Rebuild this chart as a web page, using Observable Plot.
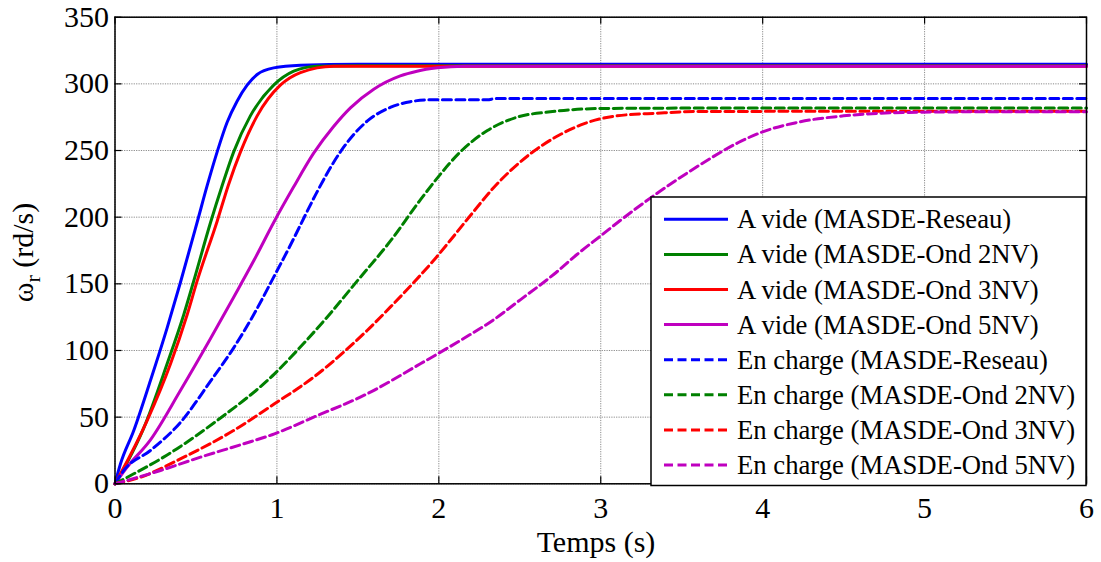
<!DOCTYPE html>
<html><head><meta charset="utf-8">
<script src="https://cdn.jsdelivr.net/npm/d3@7"></script>
<script src="https://cdn.jsdelivr.net/npm/@observablehq/plot@0.6"></script>
<style>body{margin:0;background:#fff} #chart{width:1101px;height:562px}</style>
</head><body><div id="chart"></div>
<script>
// ---- Data ----
const xTicks = [0, 1, 2, 3, 4, 5, 6];
const yTicks = [0, 50, 100, 150, 200, 250, 300, 350];
const xLabel = "Temps (s)";
const yLabelMain = "ω", yLabelSub = "r", yLabelUnit = " (rd/s)";

const seriesNames = [
  "A vide (MASDE-Reseau)",
  "A vide (MASDE-Ond 2NV)",
  "A vide (MASDE-Ond 3NV)",
  "A vide (MASDE-Ond 5NV)",
  "En charge (MASDE-Reseau)",
  "En charge (MASDE-Ond 2NV)",
  "En charge (MASDE-Ond 3NV)",
  "En charge (MASDE-Ond 5NV)"
];
const seriesColors = ["#0000ff", "#008000", "#ff0000", "#bf00bf", "#0000ff", "#008000", "#ff0000", "#bf00bf"];
const seriesDashed = [false, false, false, false, true, true, true, true];

const tVideReseau = [0, 0.034, 0.116, 0.219, 0.322, 0.404, 0.507, 0.57, 0.631, 0.692, 0.754, 0.816, 0.878, 0.98, 1.145, 1.5, 6];
const wVideReseau = [0, 15, 40, 77.5, 117, 151, 196, 224, 249, 271, 287, 299, 307, 312, 314, 314.8, 314.8];

const tVide2NV = [0, 0.075, 0.178, 0.322, 0.425, 0.486, 0.59, 0.66, 0.733, 0.836, 0.98, 1.104, 1.248, 1.5, 6];
const wVide2NV = [0, 16, 42, 90, 127, 152, 196, 223, 249, 276, 299, 309.5, 313.3, 313.5, 313.5];

const tVide3NV = [0, 0.034, 0.199, 0.343, 0.446, 0.507, 0.631, 0.7, 0.775, 0.878, 1.021, 1.145, 1.35, 6];
const wVide3NV = [0, 7.5, 47.5, 90, 127, 152, 197, 224, 249, 276, 299, 308.5, 313.3, 313.3];

const tVide5NV = [0, 0.075, 0.219, 0.404, 0.59, 0.733, 0.86, 0.98, 1.1, 1.227, 1.35, 1.454, 1.598, 1.762, 1.865, 1.99, 2.153, 6];
const wVide5NV = [0, 12.5, 33, 70, 109, 140, 168, 196, 222, 248, 268, 282, 296, 306, 309.5, 312, 313.3, 313.3];

const tChargeReseau = [0, 0.054, 0.219, 0.404, 0.59, 0.733, 0.857, 0.98, 1.104, 1.165, 1.248, 1.392, 1.557, 1.7, 1.824, 1.948, 2.3, 2.35, 6];
const wChargeReseau = [0, 10, 25, 46, 77, 102, 127, 155, 184, 199, 219, 249, 272, 282.3, 286.6, 288, 288, 289, 289];

const tCharge2NV = [0, 0.116, 0.3, 0.631, 0.985, 1.125, 1.31, 1.495, 1.7, 1.886, 1.985, 2.133, 2.3, 2.483, 2.688, 3.0, 3.5, 6];
const wCharge2NV = [0, 7.5, 20, 47.5, 82.5, 100, 125, 152, 182, 213, 228.5, 249, 265, 275, 279, 281.5, 281.8, 281.8];

const tCharge3NV = [0, 0.158, 0.425, 0.733, 0.985, 1.227, 1.433, 1.557, 1.7, 1.845, 1.985, 2.07, 2.19, 2.345, 2.57, 2.75, 2.894, 3.1, 3.35, 3.614, 6];
const wCharge3NV = [0, 5, 20, 40, 60, 80, 101, 115, 132.5, 151, 170, 182.5, 200.5, 223, 248, 262, 270, 276, 278, 279.3, 279.5];

const tCharge5NV = [0, 0.281, 0.528, 0.795, 0.985, 1.227, 1.557, 1.886, 2.0, 2.153, 2.338, 2.503, 2.709, 2.853, 3.0, 3.12, 3.326, 3.532, 3.676, 3.85, 4.0, 4.23, 4.5, 4.9, 5.3, 6];
const wCharge5NV = [0, 10, 20, 30, 37.5, 50, 67.5, 90, 98, 109, 123, 138, 157, 172, 186, 197.5, 216, 233, 244, 256, 264, 271.5, 276, 278.6, 279, 279];

const seriesT = [tVideReseau, tVide2NV, tVide3NV, tVide5NV, tChargeReseau, tCharge2NV, tCharge3NV, tCharge5NV];
const seriesW = [wVideReseau, wVide2NV, wVide3NV, wVide5NV, wChargeReseau, wCharge2NV, wCharge3NV, wCharge5NV];

// ---- Layout ----
const W = 1101, H = 562;
const mL = 114.5, mR = 15, mT = 16.7, mB = 78.7;
const plotW = W - mL - mR, plotH = H - mT - mB;
const tickLen = 7;
const FONT = "'Liberation Serif', Tinos, 'Times New Roman', 'DejaVu Serif', serif";
const DASH = "9,4.5";

const lineMarks = seriesNames.map((name, i) =>
  Plot.line(seriesT[i].map((t, j) => ({t, w: seriesW[i][j]})), {
    x: "t", y: "w",
    stroke: seriesColors[i], strokeWidth: 3,
    strokeDasharray: seriesDashed[i] ? DASH : null,
    curve: "monotone-x"
  })
);

const svg = Plot.plot({
  width: W, height: H,
  marginLeft: mL, marginRight: mR, marginTop: mT, marginBottom: mB,
  style: {fontFamily: FONT, fontSize: "30px", background: "#fff", color: "#000"},
  x: {domain: [0, 6], label: null},
  y: {domain: [0, 350], label: null},
  marks: [
    Plot.ruleX(xTicks, {x: d => d, stroke: "#8a8a8a", strokeWidth: 1, strokeDasharray: "1.2,1.2"}),
    Plot.ruleY(yTicks, {y: d => d, stroke: "#8a8a8a", strokeWidth: 1, strokeDasharray: "1.2,1.2"}),
    ...lineMarks,
    Plot.tickX(xTicks, {x: d => d, insetTop: plotH - tickLen, stroke: "#000", strokeWidth: 1.2}),
    Plot.tickX(xTicks, {x: d => d, insetBottom: plotH - tickLen, stroke: "#000", strokeWidth: 1.2}),
    Plot.tickY(yTicks, {y: d => d, insetRight: plotW - tickLen, stroke: "#000", strokeWidth: 1.2}),
    Plot.tickY(yTicks, {y: d => d, insetLeft: plotW - tickLen, stroke: "#000", strokeWidth: 1.2}),
    Plot.frame({stroke: "#000", strokeWidth: 1.5}),
    Plot.axisX({ticks: xTicks, tickSize: 0, tickPadding: 12.5, fontSize: 30, label: null, tickFormat: d => String(d)}),
    Plot.axisY({ticks: yTicks, tickSize: 0, tickPadding: 6, fontSize: 30, label: null, tickFormat: d => String(d)})
  ]
});

const root = d3.select(svg);

// x label
root.append("text")
  .attr("x", 596).attr("y", 552)
  .attr("text-anchor", "middle")
  .attr("font-size", 30).attr("fill", "#000")
  .text(xLabel);

// y label with subscript
const yl = root.append("text")
  .attr("transform", "translate(33,252.5) rotate(-90)")
  .attr("text-anchor", "middle")
  .attr("font-size", 30).attr("fill", "#000");
yl.append("tspan").text(yLabelMain);
yl.append("tspan").attr("font-size", 22).attr("dy", 7).text(yLabelSub);
yl.append("tspan").attr("dy", -7).text(yLabelUnit);

// legend
const lg = root.append("g").attr("text-anchor", "start");
const lgX = 651, lgY = 197, lgW = 1086 - 651, lgH = 288.5;
lg.append("rect").attr("x", lgX).attr("y", lgY).attr("width", lgW).attr("height", lgH)
  .attr("fill", "#fff").attr("stroke", "#000").attr("stroke-width", 1.5);
seriesNames.forEach((name, i) => {
  const cy = 219.3 + i * 35.1;
  lg.append("line").attr("x1", 664).attr("x2", 728).attr("y1", cy).attr("y2", cy)
    .attr("stroke", seriesColors[i]).attr("stroke-width", 3)
    .attr("stroke-dasharray", seriesDashed[i] ? DASH : null);
  lg.append("text").attr("x", 737).attr("y", cy + 9)
    .attr("text-anchor", "start")
    .attr("font-size", 26.7).attr("fill", "#000")
    .text(name);
});

root.attr("font-family", FONT).style("font-family", FONT);
root.selectAll("text").attr("font-family", FONT).style("font-family", FONT);

document.getElementById("chart").appendChild(svg);
</script>
</body></html>
